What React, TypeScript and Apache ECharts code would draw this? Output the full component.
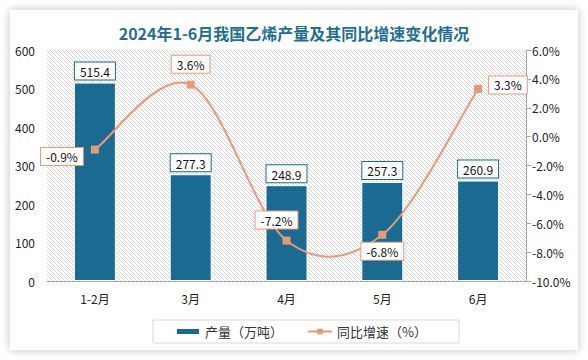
import React, { useEffect, useRef } from "react";
import * as echarts from "echarts";

const categories = ["1-2月", "3月", "4月", "5月", "6月"];
const output = [515.4, 277.3, 248.9, 257.3, 260.9];
const growth = [-0.9, 3.6, -7.2, -6.8, 3.3];

const BLUE = "#1b6a92";
const ORANGE = "#e8997a";
const FONT = "'Noto Sans CJK SC', 'Noto Sans', sans-serif";

const hatchSvg =
  "<svg xmlns='http://www.w3.org/2000/svg' width='4' height='4'>" +
  "<path d='M-1,-1 L5,5 M-1,3 L1,5 M3,-1 L5,1' stroke='#cfcfcf' stroke-width='0.9'/></svg>";
const hatchUrl = "data:image/svg+xml;charset=utf-8," + encodeURIComponent(hatchSvg);

export default function App() {
  const ref = useRef<HTMLDivElement>(null);
  useEffect(() => {
    if (!ref.current) return;
    const chart = echarts.init(ref.current, null, { renderer: "svg" });
    const lineLabelPos: any[] = [
      { position: "left", distance: 8, offset: [0, 7] },
      { position: "top", distance: 8 },
      { position: "top", distance: 8, offset: [-10, 0] },
      { position: "bottom", distance: 4 },
      { position: "right", distance: 7, offset: [0, -4] },
    ];
    chart.setOption({
      animation: false,
      backgroundColor: "#ffffff",
      textStyle: { fontFamily: FONT },
      graphic: [
        {
          type: "rect",
          z: -10,
          silent: true,
          shape: { x: 10, y: 10, width: 568, height: 340 },
          style: {
            fill: "#ffffff",
            shadowBlur: 10,
            shadowColor: "rgba(0,0,0,0.25)",
          },
        },
      ],
      title: {
        text: "2024年1-6月我国乙烯产量及其同比增速变化情况",
        left: "center",
        top: 20,
        textStyle: {
          color: "#1f6e94",
          fontSize: 16,
          fontWeight: "bold",
          fontFamily: FONT,
        },
      },
      legend: {
        bottom: 17,
        left: 153,
        itemWidth: 24,
        itemHeight: 7,
        itemGap: 24,
        padding: [5, 32, 5, 22],
        borderColor: "#d9d9d9",
        borderWidth: 1,
        textStyle: { fontSize: 13, color: "#333", fontFamily: FONT },
        data: [
          { name: "产量（万吨）", icon: "rect" },
          {
            name: "同比增速（%）",
            lineStyle: { color: ORANGE, width: 2, opacity: 1 },
          },
        ],
      },
      grid: {
        left: 47,
        right: 62,
        top: 50,
        bottom: 79,
        show: true,
        borderWidth: 0,
        backgroundColor: { image: hatchUrl, repeat: "repeat" },
      },
      xAxis: {
        type: "category",
        data: categories,
        axisLine: { show: true, lineStyle: { color: "#a6a6a6" } },
        axisTick: { show: false },
        axisLabel: { color: "#222", fontSize: 12, margin: 11 },
      },
      yAxis: [
        {
          type: "value",
          min: 0,
          max: 600,
          interval: 100,
          splitLine: { show: false },
          axisLine: { show: false },
          axisTick: { show: false },
          axisLabel: { color: "#222", fontSize: 12, margin: 12 },
        },
        {
          type: "value",
          min: -10,
          max: 6,
          interval: 2,
          splitLine: { show: false },
          axisLine: { show: true, lineStyle: { color: "#a6a6a6" } },
          axisTick: { show: true, length: 5, lineStyle: { color: "#a6a6a6" } },
          axisLabel: {
            color: "#222",
            fontSize: 12,
            margin: 6,
            formatter: (v: number) => v.toFixed(1) + "%",
          },
        },
      ],
      series: [
        {
          name: "产量（万吨）",
          type: "bar",
          data: output,
          barWidth: 42,
          itemStyle: { color: BLUE, borderColor: "#ffffff", borderWidth: 1 },
          label: {
            show: true,
            position: "top",
            distance: 3,
            color: "#111",
            fontSize: 12,
            backgroundColor: "#fff",
            borderColor: BLUE,
            borderWidth: 1,
            padding: [3, 5, 2, 5],
            formatter: (p: any) => p.value.toFixed(1),
          },
        },
        {
          name: "curve",
          type: "custom",
          yAxisIndex: 1,
          z: 3,
          silent: true,
          data: growth.map((v, i) => [i, v]),
          renderItem: (params: any, api: any) => {
            if (params.dataIndex !== 0) return null;
            const pts = growth.map((v, i) => api.coord([i, v]));
            const n = pts.length;
            const P = (k: number) => pts[Math.max(0, Math.min(n - 1, k))];
            let d = `M${pts[0][0]},${pts[0][1]}`;
            for (let i = 0; i < n - 1; i++) {
              const p0 = P(i - 1), p1 = P(i), p2 = P(i + 1), p3 = P(i + 2);
              const c1x = p1[0] + (p2[0] - p0[0]) / 6;
              const c1y = p1[1] + (p2[1] - p0[1]) / 6;
              const c2x = p2[0] - (p3[0] - p1[0]) / 6;
              const c2y = p2[1] - (p3[1] - p1[1]) / 6;
              d += ` C${c1x},${c1y} ${c2x},${c2y} ${p2[0]},${p2[1]}`;
            }
            return {
              type: "path",
              shape: { pathData: d },
              style: { stroke: ORANGE, lineWidth: 2, fill: "none" },
            };
          },
        },
        {
          name: "同比增速（%）",
          type: "line",
          yAxisIndex: 1,
          z: 4,
          data: growth.map((v, i) => ({
            value: v,
            label: lineLabelPos[i],
          })),
          symbol: "rect",
          symbolSize: 8,
          lineStyle: { color: ORANGE, width: 2, opacity: 0 },
          itemStyle: { color: ORANGE },
          label: {
            show: true,
            color: "#111",
            fontSize: 12,
            backgroundColor: "#fff",
            borderColor: ORANGE,
            borderWidth: 1,
            padding: [3, 5, 2, 5],
            formatter: (p: any) => p.value.toFixed(1) + "%",
          },
        },
      ],
    });
    return () => chart.dispose();
  }, []);
  return (
    <div
      ref={ref}
      style={{ position: "fixed", left: 0, top: 0, width: 588, height: 360 }}
    />
  );
}
